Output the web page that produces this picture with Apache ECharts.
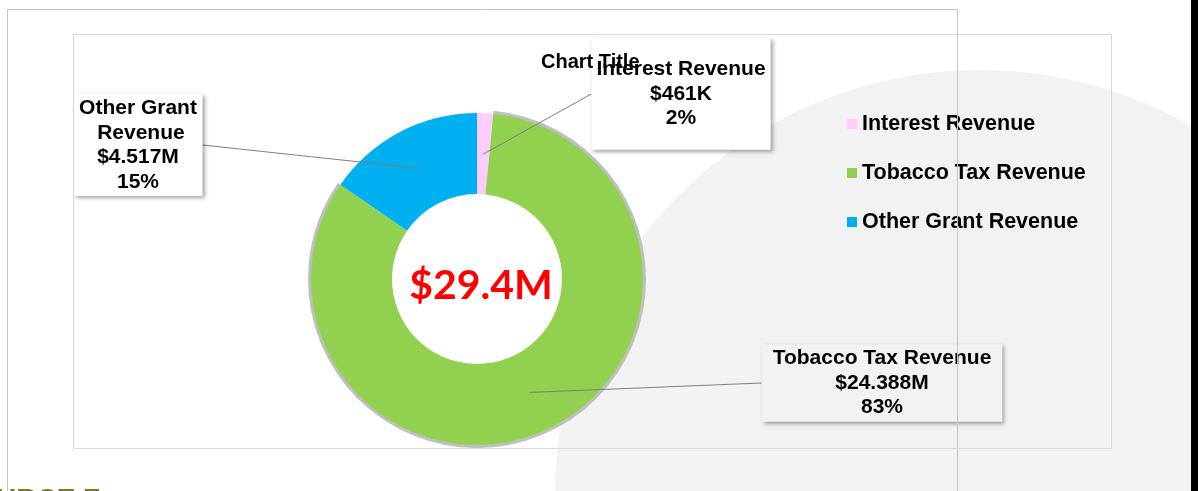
<!DOCTYPE html>
<html>
<head>
<meta charset="utf-8">
<script src="https://cdn.jsdelivr.net/npm/echarts@6/dist/echarts.min.js"></script>
<style>
html, body { margin: 0; padding: 0; background: #fff; }
#chart { width: 1198px; height: 491px; }
</style>
</head>
<body>
<div id="chart"></div>
<script>
// revenue sources, values in $M
var categories = ['Interest Revenue', 'Tobacco Tax Revenue', 'Other Grant Revenue'];
var revenue = [0.461, 24.388, 4.517];
var sliceColors = ['#ffccff', '#92d050', '#00b0f0'];
var chartTitle = 'Chart Title';

// where the data label boxes sit (box centre) and their padding
var labelBoxes = [
  { x: 681, y: 94, pad: [19, 5], bg: '#ffffff' },
  { x: 882, y: 383, pad: [2, 11], bg: '#f2f2f2' },
  { x: 138, y: 145, pad: [2, 4], bg: '#ffffff', width: 121 }
];

var FONT = '"Liberation Sans", Arial, sans-serif';

function money(v) {
  return v < 1 ? '$' + Math.round(v * 1000) + 'K' : '$' + v.toFixed(3) + 'M';
}

var total = revenue.reduce(function (a, b) { return a + b; }, 0);

var pieData = categories.map(function (n, i) {
  return { name: n, value: revenue[i], itemStyle: { color: sliceColors[i] } };
});
// grey rim only shows behind the big slice
var rimData = categories.map(function (n, i) {
  return { name: n, value: revenue[i], itemStyle: { color: i === 1 ? '#bfbfbf' : 'rgba(0,0,0,0)' } };
});
var labelData = categories.map(function (n, i) {
  var b = labelBoxes[i];
  var lbl = { backgroundColor: b.bg, padding: b.pad };
  if (b.width) { lbl.width = b.width; lbl.overflow = 'break'; }
  return { name: n, value: revenue[i], label: lbl };
});

var chart = echarts.init(document.getElementById('chart'));
var center = [477, 279];

chart.setOption({
  animation: false,
  backgroundColor: '#ffffff',
  title: {
    text: chartTitle,
    left: 541,
    top: 52,
    padding: 0,
    textStyle: { fontFamily: FONT, fontSize: 20, fontWeight: 'bold', color: '#000' }
  },
  legend: {
    orient: 'vertical',
    left: 847,
    top: 113,
    padding: 0,
    itemWidth: 10,
    itemHeight: 10,
    itemGap: 27,
    icon: 'rect',
    data: categories,
    textStyle: { fontFamily: FONT, fontSize: 21.5, fontWeight: 'bold', color: '#000' }
  },
  graphic: [
    { type: 'circle', z: 0, silent: true, shape: { cx: 980, cy: 495, r: 425 }, style: { fill: '#f2f2f2' } },
    { type: 'rect', z: 100, silent: true, shape: { x: 7.5, y: 9.5, width: 950, height: 500 }, style: { fill: null, stroke: '#c3c3c3', lineWidth: 1 } },
    { type: 'rect', z: 100, silent: true, shape: { x: 73.5, y: 34.5, width: 1038, height: 414 }, style: { fill: null, stroke: '#d9d9d9', lineWidth: 1 } },
    { type: 'rect', z: 100, silent: true, shape: { x: 1191, y: 0, width: 7, height: 491 }, style: { fill: '#000' } },
    { type: 'text', z: 100, silent: true, x: -4, y: 486, style: { text: 'URCE F', font: 'bold 28px "Liberation Sans", Arial', fill: '#7a7a2c', verticalAlign: 'top' } },
    { type: 'text', z: 50, silent: true, x: 481, y: 286, style: { text: '$' + total.toFixed(1) + 'M', font: 'bold 41px Lato, "Open Sans", sans-serif', fill: '#ff0000', align: 'center', verticalAlign: 'middle' } }
  ],
  series: [
    {
      name: 'Revenue',
      type: 'pie',
      z: 3,
      center: center,
      radius: [85, 166],
      startAngle: 90,
      clockwise: true,
      silent: true,
      label: { show: false },
      labelLine: { show: false },
      emphasis: { disabled: true },
      data: pieData
    },
    {
      name: 'rim',
      type: 'pie',
      z: 2,
      center: center,
      radius: [150, 169],
      startAngle: 90,
      clockwise: true,
      silent: true,
      label: { show: false },
      labelLine: { show: false },
      emphasis: { disabled: true },
      data: rimData
    },
    {
      name: 'labels',
      type: 'pie',
      z: 4,
      center: center,
      radius: [0, 125],
      startAngle: 90,
      clockwise: true,
      silent: true,
      avoidLabelOverlap: false,
      itemStyle: { color: 'rgba(0,0,0,0)' },
      emphasis: { disabled: true },
      label: {
        show: true,
        position: 'outside',
        formatter: function (p) {
          return p.name + '\n' + money(p.value) + '\n' + Math.round(p.percent) + '%';
        },
        fontFamily: FONT,
        fontSize: 21,
        fontWeight: 'bold',
        color: '#000',
        lineHeight: 24.5,
        align: 'center',
        shadowBlur: 4,
        shadowOffsetX: 2,
        shadowOffsetY: 2,
        shadowColor: 'rgba(0,0,0,0.35)'
      },
      labelLine: { show: true, length: 10, length2: 10, lineStyle: { color: '#7f7f7f', width: 1 } },
      labelLayout: function (params) {
        var b = labelBoxes[params.dataIndex];
        var w = params.labelRect.width;
        var a = params.labelLinePoints ? params.labelLinePoints[0] : [center[0], center[1]];
        var ex = b.x > a[0] ? b.x - w / 2 : b.x + w / 2;
        return {
          x: b.x,
          y: b.y,
          align: 'center',
          verticalAlign: 'middle',
          labelLinePoints: [a, [(a[0] + ex) / 2, (a[1] + b.y) / 2], [ex, b.y]]
        };
      },
      data: labelData
    }
  ]
});
</script>
</body>
</html>
